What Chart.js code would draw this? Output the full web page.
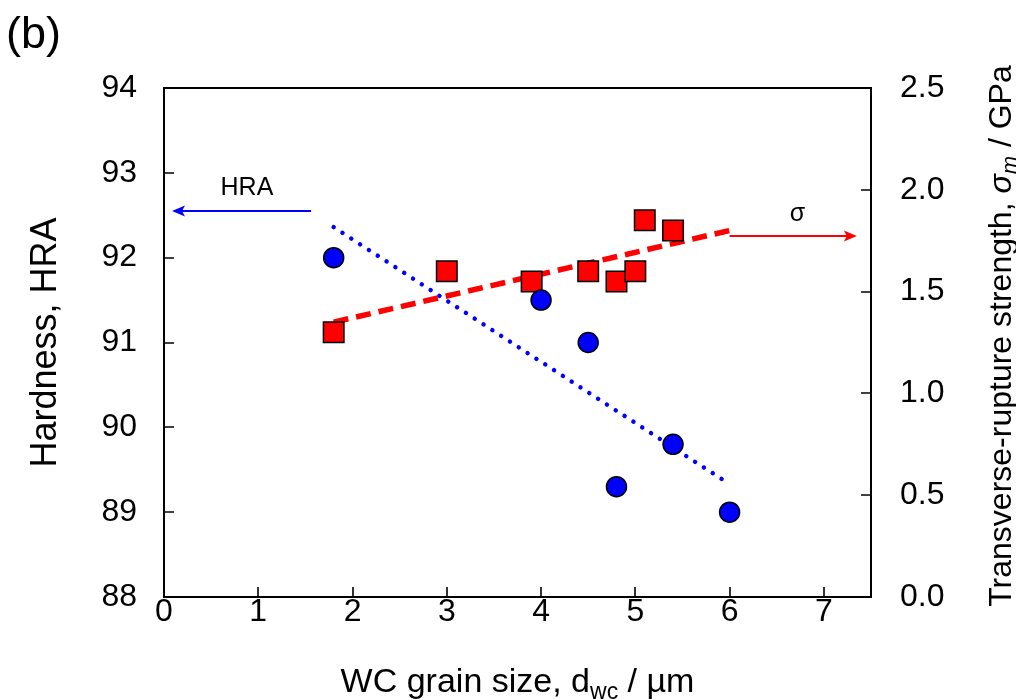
<!DOCTYPE html>
<html><head><meta charset="utf-8">
<script src="https://cdn.jsdelivr.net/npm/chart.js@4.4.1/dist/chart.umd.min.js"></script>
<style>html,body{margin:0;padding:0;background:#fff;} canvas{display:block}</style>
</head><body>
<canvas id="c" width="1016" height="699"></canvas>
<script>
// ---- data ----
const hraX = [1.8, 4.0, 4.5, 4.8, 5.4, 6.0];
const hraY = [92.0, 91.5, 91.0, 89.3, 89.8, 89.0];
const trsX = [1.8, 3.0, 3.9, 4.5, 4.8, 5.0, 5.1, 5.4];
const trsY = [1.30, 1.60, 1.55, 1.60, 1.55, 1.60, 1.85, 1.80];
const hraFitX = [1.8, 6.0];
const hraFitY = [92.36, 89.33];
const trsFitX = [1.8, 6.0];
const trsFitY = [1.35, 1.80];
const xTicks = [0, 1, 2, 3, 4, 5, 6, 7];
const yTicks = [88, 89, 90, 91, 92, 93, 94];
const y1Ticks = [0.0, 0.5, 1.0, 1.5, 2.0, 2.5];

const FONT = "'Liberation Sans', Arial, sans-serif";
const pts = (xs, ys) => xs.map((x, i) => ({x: x, y: ys[i]}));

function runsWidth(ctx, runs) {
  let w = 0;
  runs.forEach(r => { ctx.font = r.font; w += ctx.measureText(r.text).width; });
  return w;
}
function drawRuns(ctx, runs, cx, cy) {
  const w = runsWidth(ctx, runs);
  let x = cx - w / 2;
  ctx.textAlign = 'left';
  ctx.textBaseline = 'alphabetic';
  runs.forEach(r => {
    ctx.font = r.font;
    ctx.fillText(r.text, x, cy + (r.dy || 0));
    x += ctx.measureText(r.text).width;
  });
}
function arrow(ctx, x1, y, x2, color) {
  const dir = Math.sign(x2 - x1);
  ctx.save();
  ctx.strokeStyle = color; ctx.fillStyle = color; ctx.lineWidth = 2;
  ctx.beginPath(); ctx.moveTo(x1, y); ctx.lineTo(x2 - dir * 8, y); ctx.stroke();
  ctx.beginPath();
  ctx.moveTo(x2, y); ctx.lineTo(x2 - dir * 13, y - 5.5); ctx.lineTo(x2 - dir * 10, y); ctx.lineTo(x2 - dir * 13, y + 5.5);
  ctx.closePath(); ctx.fill();
  ctx.restore();
}

const decor = {
  id: 'decor',
  afterDatasetsDraw(chart) {
    const ctx = chart.ctx, a = chart.chartArea;
    const sx = chart.scales.x, sy = chart.scales.y, sy1 = chart.scales.y1;
    ctx.save();
    ctx.strokeStyle = '#000'; ctx.lineWidth = 2;
    ctx.strokeRect(a.left, a.top, a.right - a.left, a.bottom - a.top);
    ctx.lineWidth = 1.6;
    ctx.beginPath();
    xTicks.forEach(v => { const p = Math.round(sx.getPixelForValue(v)); ctx.moveTo(p, a.bottom); ctx.lineTo(p, a.bottom - 10); });
    yTicks.forEach(v => { const p = Math.round(sy.getPixelForValue(v)); ctx.moveTo(a.left, p); ctx.lineTo(a.left + 10, p); });
    y1Ticks.forEach(v => { const p = Math.round(sy1.getPixelForValue(v)); ctx.moveTo(a.right, p); ctx.lineTo(a.right - 10, p); });
    ctx.stroke();
    ctx.restore();
  },
  afterDraw(chart) {
    const ctx = chart.ctx, a = chart.chartArea;
    const sx = chart.scales.x, sy = chart.scales.y, sy1 = chart.scales.y1;
    ctx.save();
    ctx.fillStyle = '#000';
    // panel label
    ctx.font = '45px ' + FONT; ctx.textAlign = 'left'; ctx.textBaseline = 'alphabetic';
    ctx.fillText('(b)', 6, 48);
    // HRA annotation
    ctx.font = '25px ' + FONT; ctx.textAlign = 'center'; ctx.textBaseline = 'middle';
    ctx.fillText('HRA', sx.getPixelForValue(0.88), sy.getPixelForValue(92.82));
    arrow(ctx, sx.getPixelForValue(1.56), sy.getPixelForValue(92.55), sx.getPixelForValue(0.085), '#0000ff');
    // sigma annotation
    ctx.fillStyle = '#000';
    ctx.font = '25px ' + FONT; ctx.textAlign = 'center'; ctx.textBaseline = 'middle';
    ctx.fillText('σ', sx.getPixelForValue(6.72), sy1.getPixelForValue(1.88));
    arrow(ctx, sx.getPixelForValue(6.0), sy1.getPixelForValue(1.773), sx.getPixelForValue(7.35), '#ff0000');
    // bottom title
    ctx.fillStyle = '#000';
    const tf = '34px ' + FONT, sf = '23px ' + FONT;
    drawRuns(ctx, [
      {text: 'WC grain size, d', font: tf},
      {text: 'wc', font: sf, dy: 7},
      {text: ' / µm', font: tf}
    ], (a.left + a.right) / 2, 692);
    // left title
    ctx.save();
    ctx.translate(56, (a.top + a.bottom) / 2);
    ctx.rotate(-Math.PI / 2);
    ctx.font = '36px ' + FONT; ctx.textAlign = 'center'; ctx.textBaseline = 'alphabetic';
    ctx.fillText('Hardness, HRA', 0, 0);
    ctx.restore();
    // right title
    ctx.save();
    ctx.translate(1011, 336);
    ctx.rotate(-Math.PI / 2);
    const rf = '32px ' + FONT, rif = 'italic 32px ' + FONT, rsf = 'italic 22px ' + FONT;
    drawRuns(ctx, [
      {text: 'Transverse-rupture strength, ', font: rf},
      {text: 'σ', font: rif},
      {text: 'm', font: rsf, dy: 6},
      {text: ' / GPa', font: rf}
    ], 0, 0);
    ctx.restore();
    ctx.restore();
  }
};

const tickFont = {family: FONT, size: 32};
new Chart(document.getElementById('c'), {
  type: 'scatter',
  data: {
    datasets: [
      {
        label: 'HRA', data: pts(hraX, hraY), yAxisID: 'y', order: 0,
        pointStyle: 'circle', radius: 10, backgroundColor: '#0000ff', borderColor: '#000', borderWidth: 1.5
      },
      {
        label: 'TRS', data: pts(trsX, trsY), yAxisID: 'y1', order: 1,
        pointStyle: 'rect', radius: 14.5, backgroundColor: '#ff0000', borderColor: '#000', borderWidth: 1.5
      },
      {
        type: 'line', label: 'HRA fit', data: pts(hraFitX, hraFitY), yAxisID: 'y', order: 2,
        borderColor: '#0000ff', borderWidth: 4.5, borderDash: [0.01, 10.5], borderCapStyle: 'round',
        pointRadius: 0, fill: false, showLine: true
      },
      {
        type: 'line', label: 'TRS fit', data: pts(trsFitX, trsFitY), yAxisID: 'y1', order: 3,
        borderColor: '#ff0000', borderWidth: 5.5, borderDash: [15, 8], borderCapStyle: 'butt',
        pointRadius: 0, fill: false, showLine: true
      }
    ]
  },
  options: {
    responsive: false, animation: false,
    layout: {padding: {top: 88, left: 0, right: 0, bottom: 0}},
    plugins: {legend: {display: false}, tooltip: {enabled: false}},
    scales: {
      x: {
        type: 'linear', min: 0, max: 7.5, position: 'bottom',
        grid: {display: false, drawTicks: false}, border: {display: false},
        afterBuildTicks: s => { s.ticks = xTicks.map(v => ({value: v})); },
        afterFit: s => { s.height = 102; },
        ticks: {font: tickFont, color: '#000', padding: -4, maxRotation: 0, callback: v => String(v)}
      },
      y: {
        type: 'linear', min: 88, max: 94, position: 'left',
        grid: {display: false, drawTicks: false}, border: {display: false},
        afterBuildTicks: s => { s.ticks = yTicks.map(v => ({value: v})); },
        afterFit: s => { s.width = 164; },
        ticks: {font: tickFont, color: '#000', padding: 27, callback: v => String(v)}
      },
      y1: {
        type: 'linear', min: 0, max: 2.5, position: 'right',
        grid: {display: false, drawTicks: false}, border: {display: false},
        afterBuildTicks: s => { s.ticks = y1Ticks.map(v => ({value: v})); },
        afterFit: s => { s.width = 145; },
        ticks: {font: tickFont, color: '#000', padding: 29, callback: v => Number(v).toFixed(1)}
      }
    }
  },
  plugins: [decor]
});
</script>
</body></html>
